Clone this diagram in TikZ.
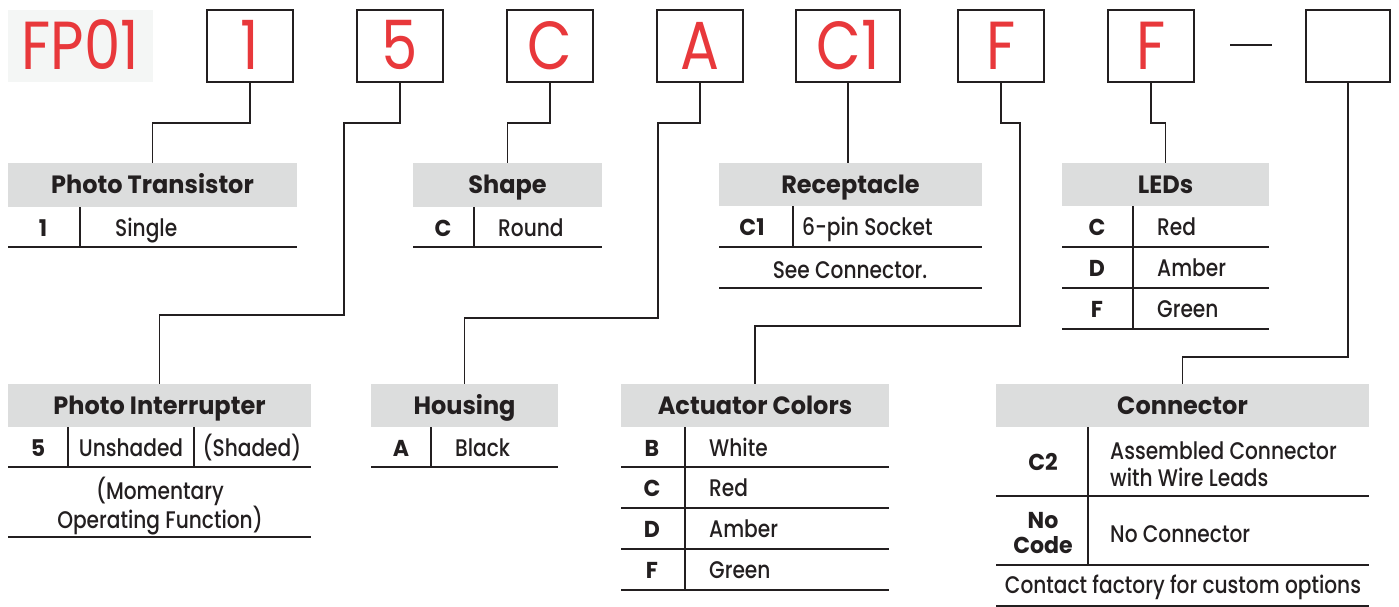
\documentclass[tikz,border=0pt]{standalone}
\usepackage{fontspec}
\setmainfont{Poppins}
\IfFontExistsTF{Poppins Medium}{\newfontfamily\descfont{Poppins Medium}[FakeStretch=0.84]}{\newfontfamily\descfont{Poppins}[FakeStretch=0.85]}
\newfontfamily\redfont{Poppins}[FakeStretch=0.85]
\IfFontExistsTF{Poppins Bold}{\newfontfamily\hdrfont{Poppins Bold}[FakeStretch=0.96]}{\newfontfamily\hdrfont{Poppins}[FakeBold=2]}
\definecolor{fpred}{HTML}{E8383B}
\definecolor{hdrgray}{HTML}{DCDDDD}
\definecolor{fpbg}{HTML}{F4F6F5}
\definecolor{ink}{HTML}{231F20}
\begin{document}
\begin{tikzpicture}[x=1pt,y=-1pt,
  conn/.style={draw=ink,line width=1.3pt},
  rule/.style={draw=ink,line width=1.4pt},
  redtxt/.style={inner sep=0pt,font=\redfont\fontsize{68}{68}\selectfont,text=fpred,text height=48pt,text depth=0pt},
  codebox/.style={redtxt,draw=ink,line width=2.6pt,minimum width=86pt,minimum height=72pt},
  hdr/.style={fill=hdrgray,inner sep=0pt,minimum height=43pt,font=\hdrfont\fontsize{25}{25}\selectfont,text=ink,text height=17pt,text depth=0pt},
  code/.style={inner sep=0pt,anchor=base,font=\hdrfont\fontsize{23}{23}\selectfont,text=ink},
  desc/.style={inner sep=0pt,anchor=base west,font=\descfont\fontsize{24}{24}\selectfont,text=ink},
  descc/.style={desc,anchor=base}]
\useasboundingbox (0,0) rectangle (1399,607);
% top row
\node[redtxt,fill=fpbg,minimum width=145pt,minimum height=72pt] (fp) at (80.5,46) {FP01};
\node[codebox] (b1) at (250,46) {1};
\node[codebox] (b5) at (400,46) {5};
\node[codebox] (bC) at (550,46) {C};
\node[codebox] (bA) at (700,46) {A};
\node[codebox,minimum width=104pt] (bC1) at (848,46) {C1};
\node[codebox] (bF1) at (1001,46) {F};
\node[codebox] (bF2) at (1151,46) {F};
\node[codebox,minimum width=84pt] (bX) at (1348,46) {};
\coordinate (d1) at (1230,45);
\coordinate (d2) at (1272,45);
\draw[draw=ink,line width=2.6pt] (d1) -- (d2);
% headers
\node[hdr,minimum width=289pt,minimum height=44pt] (hPT) at (152.5,185) {Photo Transistor};
\node[hdr,minimum width=189pt,minimum height=44pt] (hS) at (507.5,185) {Shape};
\node[hdr,minimum width=263pt] (hR) at (850.5,184.5) {Receptacle};
\node[hdr,minimum width=207pt] (hL) at (1165.5,184.5) {LEDs};
\node[hdr,minimum width=303pt] (hPI) at (159.5,405.5) {Photo Interrupter};
\node[hdr,minimum width=187pt] (hH) at (464.5,405.5) {Housing};
\node[hdr,minimum width=268pt] (hAC) at (755,405.5) {Actuator Colors};
\node[hdr,minimum width=373pt] (hCn) at (1182.5,405.5) {Connector};
% Photo Transistor
\draw[rule] (80,207) -- (80,247);
\draw[rule] (8,247) -- (297,247);
\node[code] (pt1) at (43,236) {1};
\node[desc] (pt1d) at (115,236) {Single};
% Shape
\draw[rule] (474,207) -- (474,247);
\draw[rule] (413,247) -- (602,247);
\node[code] (sC) at (443,236) {C};
\node[desc] (sCd) at (498,236) {Round};
% Receptacle
\draw[rule] (793,206) -- (793,247);
\draw[rule] (719,247) -- (982,247);
\draw[rule] (719,288) -- (982,288);
\node[code] (rC1) at (752,235) {C1};
\node[desc] (rC1d) at (802,235) {6-pin Socket};
\node[descc] (rsee) at (850,278) {See Connector.};
% LEDs
\draw[rule] (1133,206) -- (1133,329);
\foreach \yy in {247,288,329} {\draw[rule] (1062,\yy) -- (1269,\yy);}
\node[code] (lC) at (1097,235) {C};
\node[desc] (lCd) at (1157,235) {Red};
\node[code] (lD) at (1097,276) {D};
\node[desc] (lDd) at (1157,276) {Amber};
\node[code] (lF) at (1097,317) {F};
\node[desc] (lFd) at (1157,317) {Green};
% Photo Interrupter
\draw[rule] (68,427) -- (68,467);
\draw[rule] (194,427) -- (194,467);
\draw[rule] (8,467) -- (311,467);
\draw[rule] (8,537) -- (311,537);
\node[code] (pi5) at (38,456) {5};
\node[descc] (pi5a) at (131,456) {Unshaded};
\node[descc] (pi5b) at (252,456) {(Shaded)};
\node[descc] (pim1) at (160,499) {(Momentary};
\node[descc] (pim2) at (160,528) {Operating Function)};
% Housing
\draw[rule] (431,427) -- (431,467);
\draw[rule] (371,467) -- (558,467);
\node[code] (hA) at (401,456) {A};
\node[desc] (hAd) at (455,456) {Black};
% Actuator Colors
\draw[rule] (685,427) -- (685,590);
\foreach \yy in {467,508,549,590} {\draw[rule] (621,\yy) -- (889,\yy);}
\node[code] (aB) at (652,456) {B};
\node[desc] (aBd) at (709,456) {White};
\node[code] (aC) at (652,496) {C};
\node[desc] (aCd) at (709,496) {Red};
\node[code] (aD) at (652,537) {D};
\node[desc] (aDd) at (709,537) {Amber};
\node[code] (aF) at (652,578) {F};
\node[desc] (aFd) at (709,578) {Green};
% Connector
\draw[rule] (1088,427) -- (1088,565);
\foreach \yy in {496,565,606} {\draw[rule] (996,\yy) -- (1369,\yy);}
\node[code] (cC2) at (1043,470) {C2};
\node[desc] (cC2a) at (1110,459) {Assembled Connector};
\node[desc] (cC2b) at (1110,486) {with Wire Leads};
\node[code] (cNo1) at (1043,528) {No};
\node[code] (cNo2) at (1043,553) {Code};
\node[desc] (cNod) at (1110,542) {No Connector};
\node[descc] (cfac) at (1183,593) {Contact factory for custom options};
% connectors
\coordinate (ya) at (0,123);
\coordinate (k5) at (344,315);
\coordinate (kA) at (658,318);
\coordinate (kF) at (1020,326);
\coordinate (kX) at (0,357);
\draw[conn] (b1.south) |- (hPT.north |- ya) -- (hPT.north);
\draw[conn] (bC.south) |- (hS.north |- ya) -- (hS.north);
\draw[conn] (bC1.south) -- (bC1.south |- hR.north);
\draw[conn] (bF2.south) |- (hL.north |- ya) -- (hL.north);
\draw[conn] (b5.south) |- (k5 |- ya) -- (k5) -| (hPI.north);
\draw[conn] (bA.south) |- (kA |- ya) -- (kA) -| (hH.north);
\draw[conn] (bF1.south) |- (kF |- ya) -- (kF) -| (hAC.north);
\draw[conn] (bX.south) |- (hCn.north |- kX) -- (hCn.north);
\end{tikzpicture}
\end{document}
